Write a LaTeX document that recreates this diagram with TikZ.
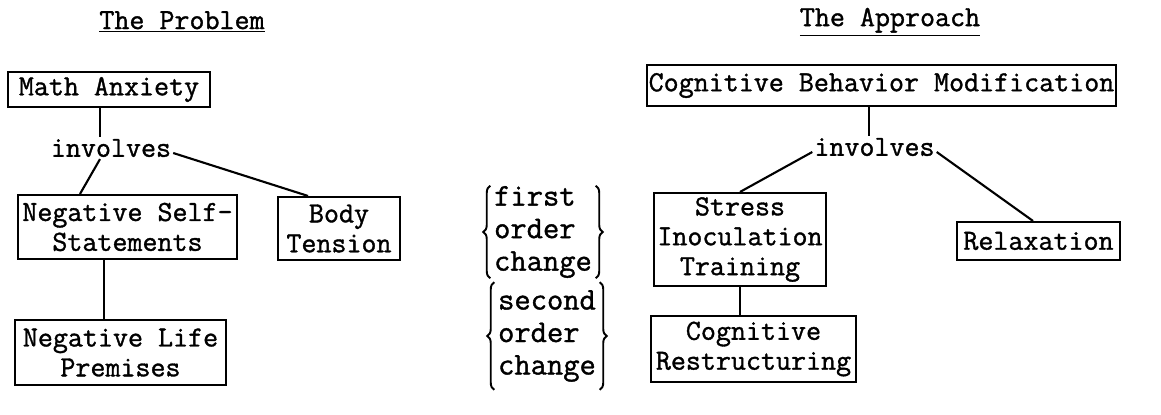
\documentclass[tikz,border=0pt]{standalone}
\usepackage{fontspec}
\setmonofont[FakeBold=1.2]{Latin Modern Mono}
\usetikzlibrary{decorations.pathreplacing}

\begin{document}
\begin{tikzpicture}[x=0.02cm,y=-0.02cm,text centered,
  box/.style={draw,line width=1.2pt,align=center,inner sep=1pt,font=\ttfamily\fontsize{16.6}{17}\selectfont},
  txt/.style={align=center,inner sep=1pt,font=\ttfamily\fontsize{16.6}{17}\selectfont},
  chg/.style={align=left,inner xsep=2pt,inner ysep=0pt,font=\ttfamily\fontsize{18}{18.5}\selectfont},
  brc/.style={decorate,decoration={brace,amplitude=4pt},line width=1.1pt}]
  \useasboundingbox (0,0) rectangle (1161,415);

  % titles
  \node (PROB) at (182,22) [txt] {\underline{The Problem}};
  \node (APPR) at (890,22) [txt] {\underline{The Approach}};

  % the problem
  \node (MATH) at (109,89.5) [box,minimum width=4.04cm,minimum height=0.70cm] {Math Anxiety};
  \node (INVL) at (111,148) [txt] {involves};
  \node (NEGS) at (127.5,227) [box,minimum width=4.38cm,minimum height=1.28cm] {Negative Self-\\Statements};
  \node (BODY) at (339,228.5) [box,minimum width=2.44cm,minimum height=1.26cm] {Body\\Tension};
  \node (NEGL) at (120.5,352.5) [box,minimum width=4.22cm,minimum height=1.30cm] {Negative Life\\Premises};

  \draw[line width=1.2pt] ([xshift=-0.18cm]MATH.south) -- ([xshift=-0.18cm]MATH.south |- INVL.north);
  \draw[line width=1.2pt] ([xshift=-0.22cm]INVL.south) -- ([xshift=-0.95cm]NEGS.north);
  \draw[line width=1.2pt] ([yshift=-0.1cm]INVL.east) -- ([xshift=-0.62cm]BODY.north);
  \draw[line width=1.2pt] ([xshift=-0.47cm]NEGS.south) -- ([xshift=-0.47cm]NEGS.south |- NEGL.north);

  % order of change
  \node (ORD1) at (543,232) [chg,minimum height=1.72cm] {first\\order\\change};
  \node (ORD2) at (547,336) [chg,minimum height=2.14cm] {second\\order\\change};
  \draw[brc] (ORD1.south west) -- (ORD1.north west);
  \draw[brc] (ORD1.north east) -- (ORD1.south east);
  \draw[brc] (ORD2.south west) -- (ORD2.north west);
  \draw[brc] (ORD2.north east) -- (ORD2.south east);

  % the approach
  \node (CBMD) at (881.5,85.5) [box,minimum width=9.34cm,minimum height=0.82cm] {Cognitive Behavior Modification};
  \node (INVR) at (874.5,147) [txt] {involves};
  \node (STRS) at (740,239.5) [box,minimum width=3.44cm,minimum height=1.86cm] {Stress\\Inoculation\\Training};
  \node (RELX) at (1038.5,241) [box,minimum width=3.26cm,minimum height=0.76cm] {Relaxation};
  \node (COGR) at (753.5,349) [box,minimum width=4.10cm,minimum height=1.32cm] {Cognitive\\Restructuring};

  \draw[line width=1.2pt] ([xshift=-0.25cm]CBMD.south) -- ([xshift=-0.25cm]CBMD.south |- INVR.north);
  \draw[line width=1.2pt] ([yshift=-0.1cm]INVR.west) -- (STRS.north);
  \draw[line width=1.2pt] ([yshift=-0.1cm]INVR.east) -- ([xshift=-0.11cm]RELX.north);
  \draw[line width=1.2pt] (STRS.south) -- (STRS.south |- COGR.north);

\end{tikzpicture}
\end{document}
